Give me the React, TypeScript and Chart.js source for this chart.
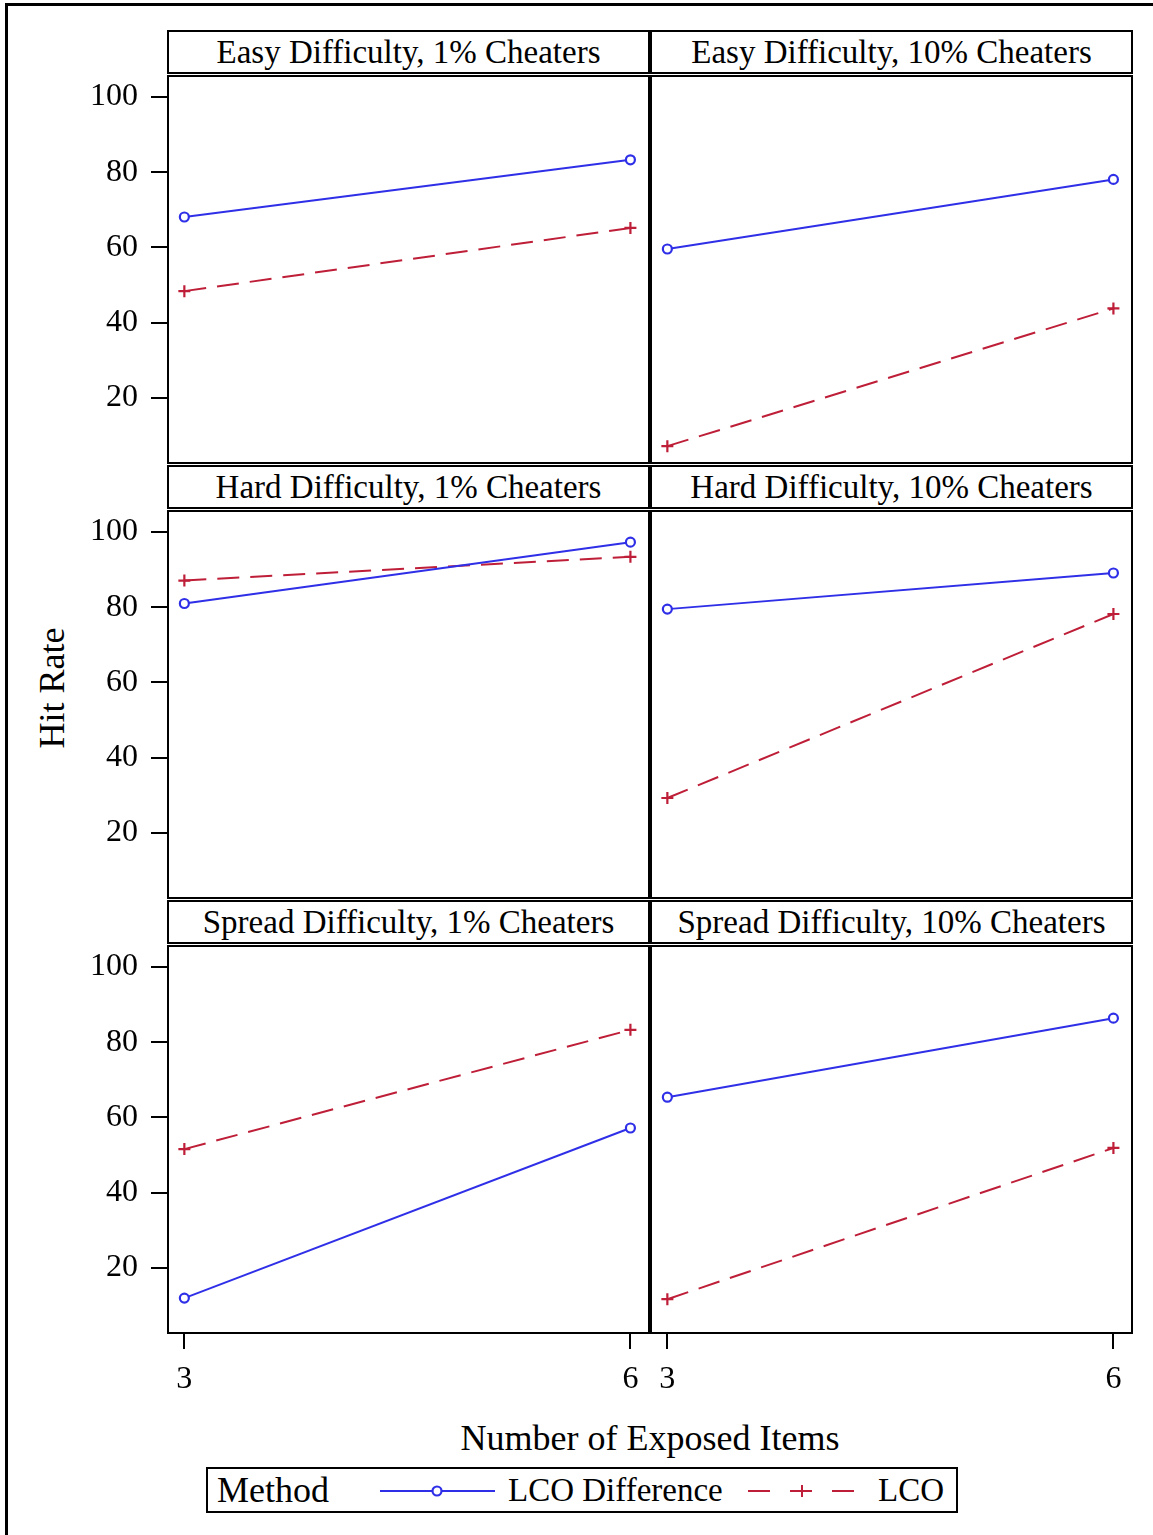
import React, { useEffect, useRef } from 'react';
import { Chart, registerables } from 'chart.js';

Chart.register(...registerables);

const FONT = "'Liberation Serif', 'Times New Roman', serif";
const BLUE = '#2F2FE8';
const RED = '#BE1E37';

// ---- data ----
const exposedItems = [3, 6];
const yTickValues = [20, 40, 60, 80, 100];
const xTickValues = [3, 6];

const panelTitles = [
  'Easy Difficulty, 1% Cheaters',
  'Easy Difficulty, 10% Cheaters',
  'Hard Difficulty, 1% Cheaters',
  'Hard Difficulty, 10% Cheaters',
  'Spread Difficulty, 1% Cheaters',
  'Spread Difficulty, 10% Cheaters',
];

const lcoDifferenceHitRate = [
  [68.1, 83.3],
  [59.6, 78.1],
  [81.0, 97.3],
  [79.5, 89.1],
  [12.0, 57.2],
  [65.4, 86.4],
];

const lcoHitRate = [
  [48.4, 65.2],
  [7.2, 43.8],
  [87.1, 93.4],
  [29.3, 78.2],
  [51.6, 83.3],
  [11.7, 51.9],
];

const seriesLabels = ['LCO Difference', 'LCO'];
const legendTitle = 'Method';
const xAxisTitle = 'Number of Exposed Items';
const yAxisTitle = 'Hit Rate';

// ---- scale ranges ----
const Y_MIN = 2.72;
const Y_MAX = 105.58;
const X_MIN = 2.89;
const X_MAX = 6.125;

// ---- layout ----
const COL_LEFT = [168, 651];
const COL_RIGHT = [649, 1132];
const ROW_TOP = [76, 511, 946];
const ROW_BOTTOM = [463, 898, 1333];

const PAD = 20;
const Y_AXIS_W = 88;
const X_AXIS_H = 75;

const framePlugin = {
  id: 'panelFrame',
  afterDraw(chart: any) {
    const { ctx, chartArea: a } = chart;
    ctx.save();
    ctx.strokeStyle = '#000';
    ctx.lineWidth = 2;
    ctx.strokeRect(a.left, a.top, a.right - a.left, a.bottom - a.top);
    ctx.restore();
  },
};

type PanelProps = {
  index: number;
  plotLeft: number;
  plotTop: number;
  plotRight: number;
  plotBottom: number;
  showY: boolean;
  showX: boolean;
};

function zeroPadding(scale: any) {
  scale.paddingTop = 0;
  scale.paddingBottom = 0;
  scale.paddingLeft = 0;
  scale.paddingRight = 0;
}

function Panel({ index, plotLeft, plotTop, plotRight, plotBottom, showY, showX }: PanelProps) {
  const ref = useRef<HTMLCanvasElement>(null);
  const padL = showY ? 0 : PAD;
  const axisW = showY ? Y_AXIS_W : 0;
  const canvasLeft = plotLeft - axisW - padL;
  const canvasTop = plotTop - PAD;
  const canvasW = plotRight + PAD - canvasLeft;
  const canvasH = plotBottom - canvasTop + (showX ? X_AXIS_H : PAD);

  useEffect(() => {
    if (!ref.current) return;
    const diff = lcoDifferenceHitRate[index];
    const lco = lcoHitRate[index];
    const chart = new Chart(ref.current, {
      type: 'line',
      data: {
        datasets: [
          {
            label: seriesLabels[0],
            data: exposedItems.map((x, i) => ({ x, y: diff[i] })),
            borderColor: BLUE,
            backgroundColor: '#ffffff',
            borderWidth: 2,
            pointStyle: 'circle',
            pointRadius: 4.5,
            pointBorderWidth: 2.2,
            pointBorderColor: BLUE,
            pointBackgroundColor: '#ffffff',
            tension: 0,
          },
          {
            label: seriesLabels[1],
            data: exposedItems.map((x, i) => ({ x, y: lco[i] })),
            borderColor: RED,
            backgroundColor: RED,
            borderWidth: 2,
            borderDash: [22, 11],
            pointStyle: 'cross',
            pointRadius: 6,
            pointBorderWidth: 2.2,
            pointBorderColor: RED,
            tension: 0,
          },
        ],
      },
      options: {
        responsive: false,
        animation: false,
        events: [],
        layout: {
          autoPadding: false,
          padding: {
            left: padL,
            top: PAD,
            right: PAD,
            bottom: showX ? 0 : PAD,
          },
        },
        plugins: {
          legend: { display: false },
          tooltip: { enabled: false },
          title: { display: false },
        },
        scales: {
          x: {
            type: 'linear',
            min: X_MIN,
            max: X_MAX,
            display: showX,
            border: { display: false },
            grid: {
              display: true,
              drawOnChartArea: false,
              drawTicks: true,
              tickLength: 16,
              color: '#000',
              lineWidth: 2,
            },
            ticks: {
              color: '#000',
              font: { family: FONT, size: 32 },
              padding: 11,
              maxRotation: 0,
              autoSkip: false,
            },
            afterBuildTicks: (scale: any) => {
              scale.ticks = xTickValues.map((v) => ({ value: v }));
            },
            afterFit: (scale: any) => {
              zeroPadding(scale);
              if (showX) scale.height = X_AXIS_H;
            },
          },
          y: {
            type: 'linear',
            min: Y_MIN,
            max: Y_MAX,
            display: showY,
            border: { display: false },
            grid: {
              display: true,
              drawOnChartArea: false,
              drawTicks: true,
              tickLength: 17,
              color: '#000',
              lineWidth: 2,
            },
            ticks: {
              color: '#000',
              font: { family: FONT, size: 32 },
              padding: 13,
              autoSkip: false,
            },
            afterBuildTicks: (scale: any) => {
              scale.ticks = yTickValues.map((v) => ({ value: v }));
            },
            afterFit: (scale: any) => {
              zeroPadding(scale);
              if (showY) scale.width = Y_AXIS_W;
            },
          },
        },
      },
      plugins: [framePlugin],
    } as any);
    return () => chart.destroy();
  }, [index, showX, showY]);

  return (
    <canvas
      ref={ref}
      width={canvasW}
      height={canvasH}
      style={{ position: 'absolute', left: canvasLeft, top: canvasTop, width: canvasW, height: canvasH }}
    />
  );
}

function Header({ title, left, top, width }: { title: string; left: number; top: number; width: number }) {
  return (
    <div
      style={{
        position: 'absolute',
        left,
        top,
        width,
        height: 44,
        boxSizing: 'border-box',
        border: '2px solid #000',
        fontFamily: FONT,
        fontSize: 33,
        lineHeight: '40px',
        textAlign: 'center',
        whiteSpace: 'nowrap',
        color: '#000',
        background: '#fff',
      }}
    >
      {title}
    </div>
  );
}

export default function App() {
  const panels: React.ReactNode[] = [];
  const headers: React.ReactNode[] = [];
  for (let r = 0; r < 3; r++) {
    for (let c = 0; c < 2; c++) {
      const idx = r * 2 + c;
      headers.push(
        <Header
          key={'h' + idx}
          title={panelTitles[idx]}
          left={COL_LEFT[c] - 1}
          top={ROW_TOP[r] - 46}
          width={COL_RIGHT[c] - COL_LEFT[c] + 2}
        />
      );
      panels.push(
        <Panel
          key={'p' + idx}
          index={idx}
          plotLeft={COL_LEFT[c]}
          plotTop={ROW_TOP[r]}
          plotRight={COL_RIGHT[c]}
          plotBottom={ROW_BOTTOM[r]}
          showY={c === 0}
          showX={r === 2}
        />
      );
    }
  }

  return (
    <div
      style={{
        position: 'absolute',
        left: 0,
        top: 0,
        width: 1153,
        height: 1535,
        overflow: 'hidden',
        background: '#fff',
        fontFamily: FONT,
        color: '#000',
      }}
    >
      <div
        style={{
          position: 'absolute',
          left: 5,
          top: 3,
          width: 1148,
          height: 1532,
          borderTop: '3px solid #000',
          borderLeft: '3px solid #000',
          boxSizing: 'border-box',
        }}
      />
      {headers}
      {panels}
      <div
        style={{
          position: 'absolute',
          left: 52,
          top: 688,
          transform: 'translate(-50%, -50%) rotate(-90deg)',
          fontSize: 36,
          lineHeight: '40px',
          whiteSpace: 'nowrap',
        }}
      >
        {yAxisTitle}
      </div>
      <div
        style={{
          position: 'absolute',
          left: 150,
          width: 1000,
          top: 1420,
          textAlign: 'center',
          fontSize: 36,
          lineHeight: '36px',
          whiteSpace: 'nowrap',
        }}
      >
        {xAxisTitle}
      </div>
      <div
        style={{
          position: 'absolute',
          left: 206,
          top: 1467,
          width: 752,
          height: 46,
          border: '2px solid #000',
          boxSizing: 'border-box',
        }}
      />
      <div style={{ position: 'absolute', left: 217, top: 1469, fontSize: 36, lineHeight: '42px', whiteSpace: 'nowrap' }}>
        {legendTitle}
      </div>
      <svg style={{ position: 'absolute', left: 380, top: 1480 }} width={116} height={22}>
        <line x1={0} y1={11} x2={115} y2={11} stroke={BLUE} strokeWidth={2} />
        <circle cx={57} cy={11} r={4.5} stroke={BLUE} strokeWidth={2.2} fill="#fff" />
      </svg>
      <div style={{ position: 'absolute', left: 508, top: 1469, fontSize: 33, lineHeight: '42px', whiteSpace: 'nowrap' }}>
        {seriesLabels[0]}
      </div>
      <svg style={{ position: 'absolute', left: 748, top: 1480 }} width={110} height={22}>
        <line x1={0} y1={11} x2={107} y2={11} stroke={RED} strokeWidth={2} strokeDasharray="22 20" />
        <line x1={48} y1={11} x2={60} y2={11} stroke={RED} strokeWidth={2} />
        <line x1={54} y1={5} x2={54} y2={17} stroke={RED} strokeWidth={2} />
      </svg>
      <div style={{ position: 'absolute', left: 878, top: 1469, fontSize: 33, lineHeight: '42px', whiteSpace: 'nowrap' }}>
        {seriesLabels[1]}
      </div>
    </div>
  );
}
